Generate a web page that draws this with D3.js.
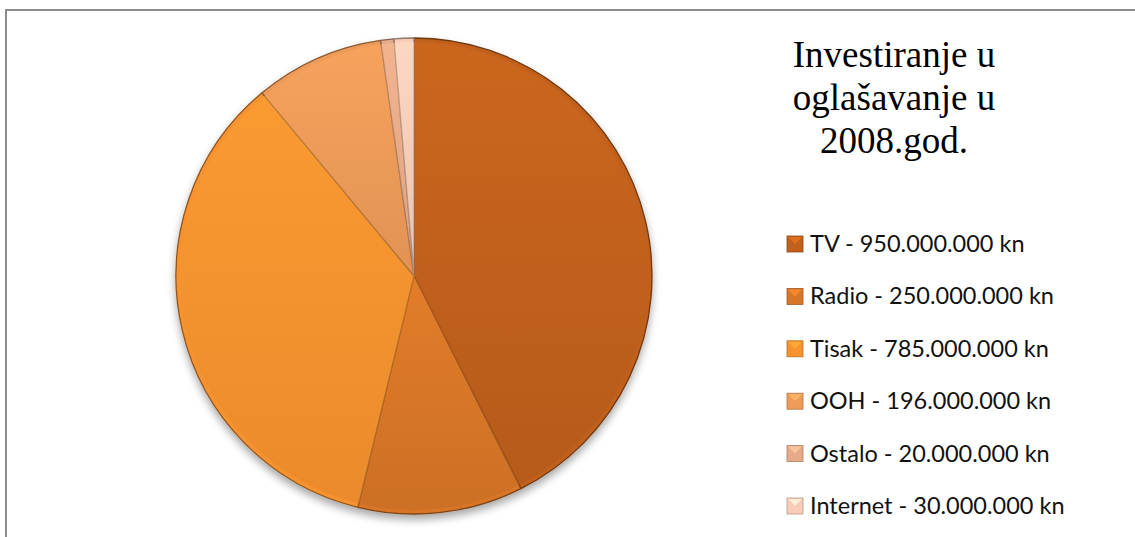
<!DOCTYPE html>
<html>
<head>
<meta charset="utf-8">
<script src="https://cdn.jsdelivr.net/npm/d3@7"></script>
<style>
  body { margin: 0; background: #fff; }
</style>
</head>
<body>
<div id="chart"></div>
<script>
'use strict';

const categories = ['TV', 'Radio', 'Tisak', 'OOH', 'Ostalo', 'Internet'];
const values = [950000000, 250000000, 785000000, 196000000, 20000000, 30000000];
const colors = ['#c0601c', '#d77628', '#f7922f', '#ee9a58', '#e6aa88', '#f8ccb7'];
const titleLines = ['Investiranje u', 'oglašavanje u', '2008.god.'];

const width = 1135, height = 537;

const fmt = v => d3.format(',')(v).replace(/,/g, '.');

const svg = d3.select('#chart')
    .append('svg')
    .attr('width', width)
    .attr('height', height);

const defs = svg.append('defs');

// soft shadow under the pie
const shadow = defs.append('filter')
    .attr('id', 'shadow')
    .attr('x', '-10%').attr('y', '-10%')
    .attr('width', '120%').attr('height', '125%');
shadow.append('feGaussianBlur').attr('in', 'SourceAlpha').attr('stdDeviation', 4);
shadow.append('feOffset').attr('dx', 0).attr('dy', 5).attr('result', 'blur');
shadow.append('feComponentTransfer').append('feFuncA').attr('type', 'linear').attr('slope', 0.35);
const merge = shadow.append('feMerge');
merge.append('feMergeNode');
merge.append('feMergeNode').attr('in', 'SourceGraphic');

// per-slice gradients (slight bevel look)
colors.forEach((c, i) => {
    const g = defs.append('linearGradient')
        .attr('id', 'grad' + i)
        .attr('x1', 0).attr('y1', 0).attr('x2', 0).attr('y2', 1);
    g.append('stop').attr('offset', '0%').attr('stop-color', d3.color(c).brighter(0.3));
    g.append('stop').attr('offset', '100%').attr('stop-color', d3.color(c).darker(0.3));
});

// frame
svg.append('rect')
    .attr('x', 6).attr('y', 10)
    .attr('width', width + 10).attr('height', height + 10)
    .attr('fill', 'none')
    .attr('stroke', '#8c8c8c')
    .attr('stroke-width', 2);

const cx = 414, cy = 276, r = 238;

const pie = d3.pie().sort(null).value(d => d.value);
const arcs = pie(categories.map((c, i) => ({ name: c, value: values[i], i: i })));

const arc = d3.arc().innerRadius(0).outerRadius(r);
const innerArc = d3.arc().innerRadius(0).outerRadius(r - 4);

const g = svg.append('g')
    .attr('transform', `translate(${cx},${cy})`);

g.append('g')
    .attr('filter', 'url(#shadow)')
    .selectAll('path')
    .data(arcs)
    .join('path')
    .attr('d', arc)
    .attr('fill', d => colors[d.data.i])
    .attr('stroke', d => d3.color(colors[d.data.i]).darker(1.5))
    .attr('stroke-width', 1.3)
    .attr('stroke-linejoin', 'round');

// inner lighter face for bevel
g.append('g')
    .selectAll('path')
    .data(arcs)
    .join('path')
    .attr('d', innerArc)
    .attr('fill', d => `url(#grad${d.data.i})`)
    .attr('opacity', 0.5)
    .attr('stroke', 'none');

// title
svg.append('g')
    .selectAll('text')
    .data(titleLines)
    .join('text')
    .attr('x', 894)
    .attr('y', (d, i) => 67 + i * 43)
    .attr('text-anchor', 'middle')
    .style('font-family', '"Liberation Serif", "Times New Roman", serif')
    .style('font-size', '37px')
    .attr('fill', '#000')
    .text(d => d);

// legend
const legend = svg.append('g')
    .selectAll('g')
    .data(arcs)
    .join('g')
    .attr('transform', (d, i) => `translate(787,${244 + i * 52.4})`);

legend.append('rect')
    .attr('x', 0).attr('y', -8)
    .attr('width', 16).attr('height', 16)
    .attr('fill', d => colors[d.data.i])
    .attr('stroke', d => d3.color(colors[d.data.i]).darker(0.8))
    .attr('stroke-width', 0.8);

legend.append('path')
    .attr('d', 'M1,-7L15,-7L8,0Z')
    .attr('fill', d => d3.color(colors[d.data.i]).brighter(0.5))
    .attr('opacity', 0.8);

legend.append('text')
    .attr('x', 23)
    .attr('y', 8)
    .style('font-family', 'Lato, "Open Sans", sans-serif')
    .style('font-size', '23.5px')
    .attr('fill', '#111')
    .text(d => d.data.name + ' - ' + fmt(d.data.value) + ' kn');
</script>
</body>
</html>
